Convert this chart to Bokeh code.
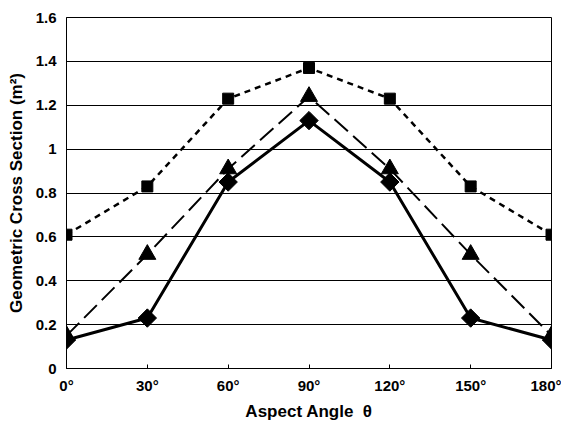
import math
from bokeh.plotting import figure
from bokeh.models import Range1d, FixedTicker
from bokeh.embed import file_html
from bokeh.resources import INLINE

angles = [0, 30, 60, 90, 120, 150, 180]
angle_labels = ["0°", "30°", "60°", "90°", "120°", "150°", "180°"]
squares = [0.61, 0.83, 1.23, 1.37, 1.23, 0.83, 0.61]
triangles = [0.15, 0.52, 0.91, 1.24, 0.91, 0.52, 0.15]
diamonds = [0.13, 0.23, 0.85, 1.13, 0.85, 0.23, 0.13]
y_ticks = [0, 0.2, 0.4, 0.6, 0.8, 1.0, 1.2, 1.4, 1.6]
y_tick_labels = ["0", "0.2", "0.4", "0.6", "0.8", "1", "1.2", "1.4", "1.6"]

p = figure(width=561, height=423, output_backend="svg", toolbar_location=None,
           x_range=Range1d(0, 180), y_range=Range1d(0, 1.6),
           min_border_left=66, min_border_right=10, min_border_top=17, min_border_bottom=54)
p.background_fill_color = "white"
p.border_fill_color = "white"
p.outline_line_color = "black"
p.outline_line_width = 1

p.xgrid.visible = False
p.ygrid.grid_line_color = "black"
p.ygrid.grid_line_width = 1
p.ygrid.ticker = FixedTicker(ticks=y_ticks)

p.xaxis.ticker = FixedTicker(ticks=angles)
p.xaxis.major_label_overrides = {a: l for a, l in zip(angles, angle_labels)}
p.yaxis.ticker = FixedTicker(ticks=y_ticks)
p.yaxis.major_label_overrides = {t: l for t, l in zip(y_ticks, y_tick_labels)}

for ax in (p.xaxis, p.yaxis):
    ax.axis_line_color = "black"
    ax.major_label_text_font = "Liberation Sans"
    ax.major_label_text_font_style = "bold"
    ax.major_label_text_font_size = "15px"
    ax.major_label_text_color = "black"
    ax.axis_label_text_font = "Liberation Sans"
    ax.axis_label_text_font_style = "bold"
    ax.axis_label_text_font_size = "17px"
    ax.axis_label_text_color = "black"
    ax.minor_tick_line_color = None

p.xaxis.major_tick_in = 4
p.xaxis.major_tick_out = 0
p.xaxis.major_label_standoff = 8
p.yaxis.major_tick_in = 0
p.yaxis.major_tick_out = 0
p.yaxis.major_label_standoff = 10
p.xaxis.axis_label = "Aspect Angle\u00a0\u00a0θ"
p.yaxis.axis_label = "Geometric Cross Section (m²)"
p.xaxis.axis_label_standoff = 5
p.yaxis.axis_label_standoff = 7

p.line(angles, squares, line_color="black", line_width=2.5, line_dash="6 5")
p.scatter(angles, squares, marker="square", size=11, fill_color="black", line_color="black")

p.line(angles, triangles, line_color="black", line_width=2, line_dash="18 7")
p.scatter(angles, triangles, marker="triangle", size=17, fill_color="black", line_color="black")

p.line(angles, diamonds, line_color="black", line_width=3)
p.scatter(angles, diamonds, marker="square", angle=math.pi / 4, size=13,
          fill_color="black", line_color="black")

open("out.html", "w").write(file_html(p, INLINE))
